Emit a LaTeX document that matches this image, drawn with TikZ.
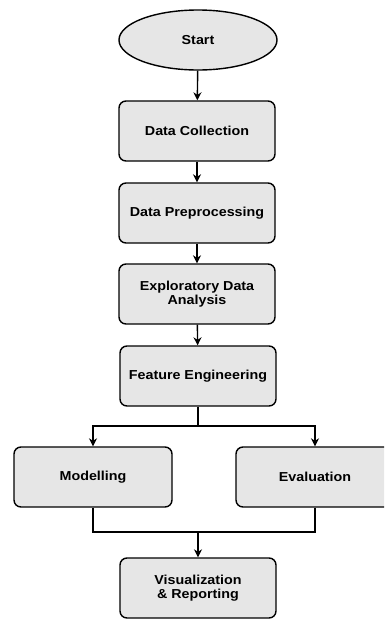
\documentclass[tikz,border=0pt]{standalone}
\usepackage{fontspec}
\setmainfont{Liberation Sans}[FakeStretch=1.1]
\usetikzlibrary{shapes.geometric,arrows.meta}
\definecolor{boxfill}{HTML}{E6E6E6}
\tikzset{
  box/.style={draw=black, line width=1.4pt, fill=boxfill, rounded corners=7pt,
    minimum width=156pt, minimum height=60pt, align=center,
    font=\fontsize{13}{14.5}\selectfont\bfseries, inner sep=2pt},
  term/.style={draw=black, line width=1.4pt, fill=boxfill, ellipse,
    minimum width=158pt, minimum height=60pt, inner sep=0pt,
    font=\fontsize{13}{14.5}\selectfont\bfseries},
  flow/.style={line width=1.4pt, -{Stealth[length=8pt,width=8pt]}},
  link/.style={line width=1.4pt}
}
\begin{document}
\begin{tikzpicture}[x=1pt,y=-1pt]
\useasboundingbox (0,0) rectangle (384,619);
\begin{scope}
\clip (0,0) rectangle (384,619);
\node[term] (start) at (198,40) {Start};
\node[box] (dc) at (197,131) {Data Collection};
\node[box] (dp) at (197,213) {Data Preprocessing};
\node[box] (eda) at (197,294) {Exploratory Data\\Analysis};
\node[box] (fe) at (198,376) {Feature Engineering};
\node[box, minimum width=158pt] (mod) at (93,477) {Modelling};
\node[box, minimum width=158pt] (eva) at (315,477) {Evaluation};
\node[box] (vis) at (198,588) {Visualization\\\& Reporting};

\coordinate (split) at (198,426);
\coordinate (join) at (198,532);

\draw[flow] (start) -- (dc);
\draw[flow] (dc) -- (dp);
\draw[flow] (dp) -- (eda);
\draw[flow] (eda) -- (fe);
\draw[link] (fe.south) -- (split);
\draw[flow] (split) -| (mod.north);
\draw[flow] (split) -| (eva.north);
\draw[link] (mod.south) |- (join);
\draw[link] (eva.south) |- (join);
\draw[flow] (join) -- (vis.north);
\end{scope}
\end{tikzpicture}
\end{document}
